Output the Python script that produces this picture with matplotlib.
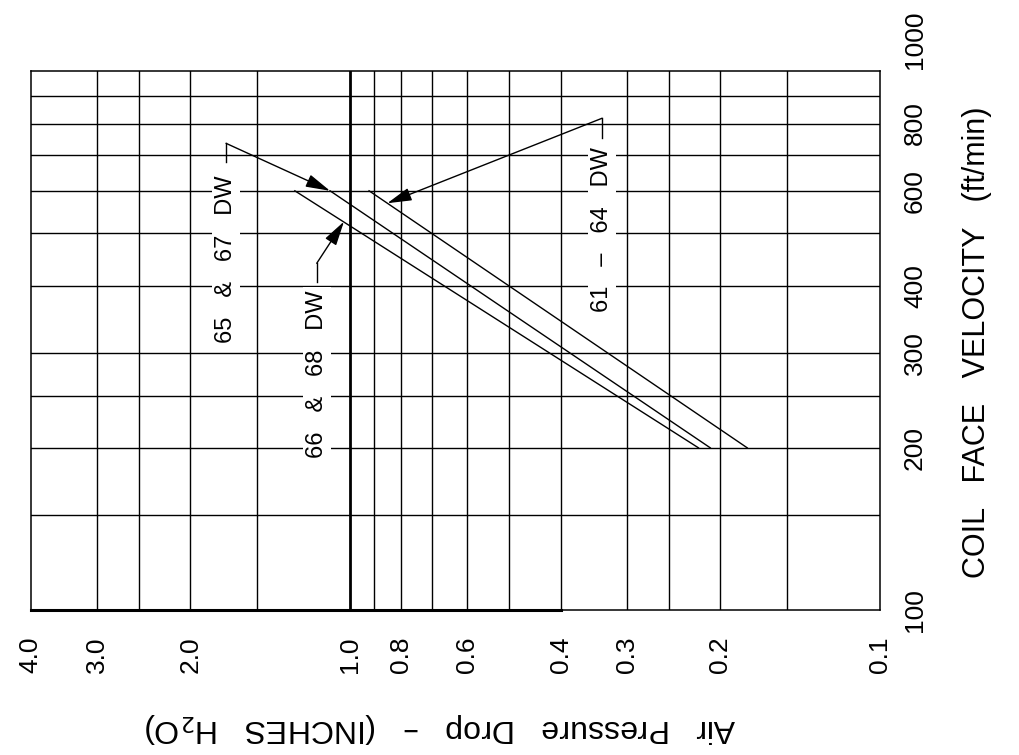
import matplotlib
matplotlib.use("Agg")
import matplotlib.pyplot as plt
import matplotlib.transforms as mtransforms
from matplotlib.patches import ArrowStyle

# pressure drop axis (inches H2O), drawn right-to-left
pressure_ticks = [4.0, 3.0, 2.0, 1.0, 0.8, 0.6, 0.4, 0.3, 0.2, 0.1]
pressure_tick_labels = ["4.0", "3.0", "2.0", "1.0", "0.8", "0.6", "0.4", "0.3", "0.2", "0.1"]
pressure_grid = [3.0, 2.5, 2.0, 1.5, 1.0, 0.9, 0.8, 0.7, 0.6, 0.5, 0.4, 0.3, 0.25, 0.2, 0.15]

# coil face velocity axis (ft/min)
velocity_ticks = [100, 200, 300, 400, 600, 800, 1000]
velocity_tick_labels = ["100", "200", "300", "400", "600", "800", "1000"]
velocity_grid = [150, 200, 250, 300, 400, 500, 600, 700, 800, 900]

# coil curves: pressure drop at 600 and 200 ft/min
coil_velocity = [600, 200]
drop_66_68 = [1.27, 0.22]
drop_65_67 = [1.09, 0.209]
drop_61_64 = [0.92, 0.178]

TEXT_FONT = ["Liberation Sans", "DejaVu Sans"]
TICK_FONT = ["Liberation Sans Narrow", "Liberation Sans", "DejaVu Sans"]

fig = plt.figure(figsize=(10.19, 7.55), dpi=100)
ax = fig.add_axes([30.7 / 1019, 1 - 610 / 755, 849.3 / 1019, 538.7 / 755])
ax.set_xscale("log")
ax.set_yscale("log")
ax.set_xlim(4.0, 0.1)
ax.set_ylim(100, 1000)
ax.tick_params(which="both", length=0, labelbottom=False, labelleft=False)
for s in ax.spines.values():
    s.set_linewidth(1.1)
    s.set_color("black")

for p in pressure_grid:
    ax.axvline(p, color="black", lw=2.0 if p == 1.0 else 1.0, zorder=1)
for v in velocity_grid:
    ax.axhline(v, color="black", lw=1.0, zorder=1)
# heavier bottom edge on the left part, as in the drawing
ax.plot([4.0, 0.4], [100, 100], color="black", lw=2.2, clip_on=False, zorder=3)

for drops in (drop_66_68, drop_65_67, drop_61_64):
    ax.plot(drops, coil_velocity, color="black", lw=1.0, zorder=2)

# curve labels with leader + arrow
sp = "   "
callouts = [
    (sp.join(["65", "&", "67", "DW"]), 0.230, 0.652, 0.8316, 0.8663, (drop_65_67[0], 600)),
    (sp.join(["66", "&", "68", "DW"]), 0.3368, 0.438, 0.6094, 0.6436, (1.026, 526)),
    (sp.join(["61", "\u2013", "64", "DW"]), 0.6727, 0.7054, 0.8762, 0.9128, (0.85, 569)),
]
arrow = ArrowStyle("-|>", head_length=0.6, head_width=0.16)
for text, tx, ty, y0, y1, tip in callouts:
    ax.text(tx, ty, text, transform=ax.transAxes, rotation=90, ha="center", va="center",
            fontsize=17, family=TEXT_FONT, zorder=4,
            bbox=dict(facecolor="white", edgecolor="none", pad=2.0))
    ax.plot([tx, tx], [y0, y1], transform=ax.transAxes, color="black", lw=1.0, zorder=4)
    ax.annotate("", xy=tip, xycoords="data", xytext=(tx, y1), textcoords="axes fraction",
                arrowprops=dict(arrowstyle=arrow, color="black", lw=1.0,
                                mutation_scale=25, shrinkA=0, shrinkB=0), zorder=5)

# tick labels
xtrans = mtransforms.blended_transform_factory(ax.transData, ax.transAxes)
for p, lab in zip(pressure_ticks, pressure_tick_labels):
    ax.text(p, -0.0835, lab, transform=xtrans, rotation=90, ha="center", va="center",
            fontsize=19, family=TICK_FONT)

ytrans = mtransforms.blended_transform_factory(ax.transAxes, ax.transData)
for v, lab in zip(velocity_ticks, velocity_tick_labels):
    tr = ytrans
    if v == 1000:
        tr = ytrans + mtransforms.ScaledTranslation(0, 0.32, fig.dpi_scale_trans)
    ax.text(1.0412, v, lab, transform=tr, rotation=90, ha="center", va="center",
            fontsize=19, family=TICK_FONT)

ax.text(1.1142, 0.4975, "COIL   FACE   VELOCITY   (ft/min)", transform=ax.transAxes,
        rotation=90, ha="center", va="center", fontsize=22, family=TEXT_FONT)

fig.text(440 / 1019, 1 - 728 / 755, "Air   Pressure   Drop   \u2013   (INCHES   H$_2$O)",
         rotation=180, ha="center", va="center", fontsize=23, family=TEXT_FONT)

fig.savefig("out.png", dpi=100)
